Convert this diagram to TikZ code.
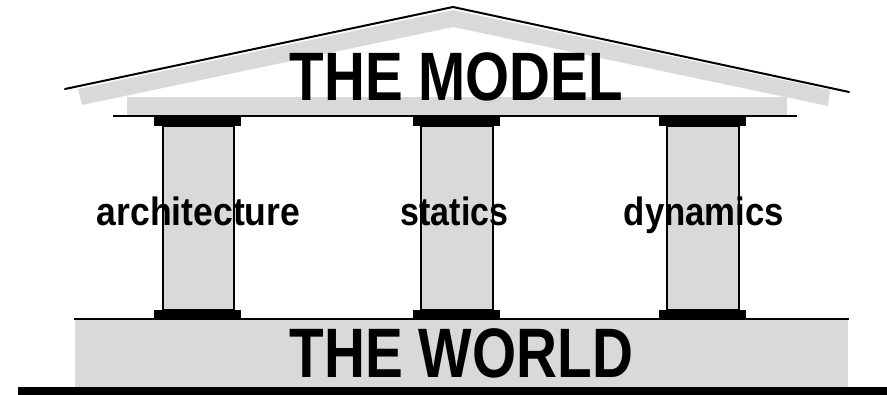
\documentclass[tikz,border=0pt]{standalone}
\usepackage{fontspec}
\usepackage{graphicx}
\setmainfont{Liberation Sans}
\definecolor{stone}{RGB}{217,217,217}
\tikzset{
  stonefill/.style={fill=stone, draw=none},
  capital/.style={fill=black, draw=none},
  shaft/.style={fill=stone, draw=black, line width=1.4pt},
  bigtitle/.style={anchor=base, inner sep=0pt, font=\bfseries},
  pillarlabel/.style={anchor=base, inner sep=0pt, font=\bfseries\fontsize{39.5}{41}\selectfont},
}
\begin{document}
\begin{tikzpicture}[x=1pt,y=-1pt]
\useasboundingbox (0,0) rectangle (887,395);
% roof
\fill[stone] (78,89) -- (453,10) -- (830,90) -- (828,106) -- (453,27) -- (82,105) -- cycle;
\draw[line width=2pt, line cap=round, line join=miter] (65,89) -- (453,7) -- (849,92);
% entablature
\fill[stone] (127,97) rectangle (787,115);
\draw[line width=2pt] (113,116.5) -- (797,116.5);
% platform
\fill[stone] (75,320) rectangle (848,387);
\draw[line width=2pt] (74,319) -- (849,319);
\fill[black] (18,387) rectangle (887,395);
% columns
\foreach \cx/\sl/\sr in {197.5/163/234, 456.5/421/493, 702/667/739}{
  \draw[shaft] (\sl,126) rectangle (\sr,310);
  \fill[black] (\cx-43.5,117) rectangle (\cx+43.5,126);
  \fill[black] (\cx-43.5,310) rectangle (\cx+43.5,320);
}
% texts
\node[bigtitle, font=\bfseries\fontsize{68.5}{70}\selectfont] (model) at (456.5,101) {\scalebox{0.826}[1]{THE MODEL}};
\node[bigtitle, font=\bfseries\fontsize{70}{72}\selectfont] (world) at (461.5,378) {\scalebox{0.81}[1]{THE WORLD}};
\node[pillarlabel] (arch) at (198.5,226) {\scalebox{0.9}[1]{architecture}};
\node[pillarlabel] (stat) at (454.5,226) {\scalebox{0.86}[1]{statics}};
\node[pillarlabel] (dyn) at (704,226) {\scalebox{0.88}[1]{dynamics}};
\end{tikzpicture}
\end{document}
